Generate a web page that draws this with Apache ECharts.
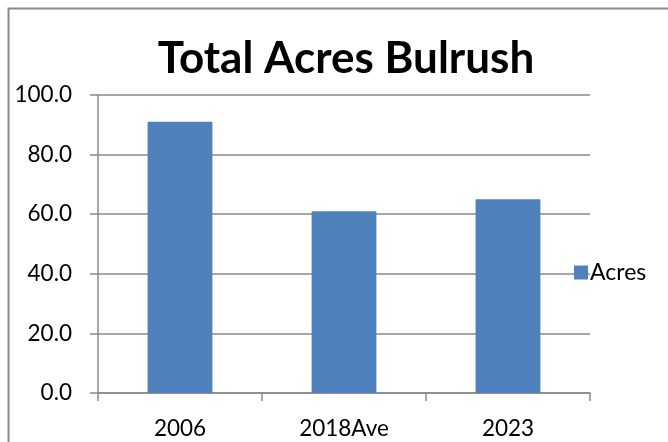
<!DOCTYPE html>
<html><head><meta charset="utf-8">
<script src="https://cdn.jsdelivr.net/npm/echarts@6/dist/echarts.min.js"></script>
<style>html,body{margin:0;padding:0;background:#fff}#c{width:668px;height:442px}</style>
</head><body><div id="c"></div>
<script>
const categories = ["2006", "2018Ave", "2023"];
const acres = [91, 61, 65];
const yTicks = [0, 20, 40, 60, 80, 100];
const seriesName = "Acres";
const titleText = "Total Acres Bulrush";

const chart = echarts.init(document.getElementById('c'), null, {renderer: 'canvas'});
const font = "Lato, 'Open Sans', sans-serif";
chart.setOption({
  animation: false,
  backgroundColor: '#fff',
  graphic: [{
    type: 'rect', shape: {x: 8.5, y: 8.5, width: 800, height: 600},
    style: {fill: 'none', stroke: '#8a8a8a', lineWidth: 2}, silent: true
  }],
  title: {
    text: titleText, left: 341, top: 32, textAlign: 'center',
    textStyle: {fontFamily: font, fontWeight: 'bold', fontSize: 44, color: '#000'}
  },
  legend: {
    data: [seriesName], left: 569, top: 256, icon: 'rect', itemWidth: 14, itemHeight: 14, itemGap: 4,
    textStyle: {fontFamily: font, fontSize: 23, color: '#000', padding: [0,0,0,-3]}
  },
  grid: {left: 98, right: 78, top: 95, bottom: 49, containLabel: false},
  xAxis: {
    type: 'category', data: categories,
    axisLine: {lineStyle: {color: '#8a8a8a', width: 1.5}},
    axisTick: {show: true, length: 8, lineStyle: {color: '#8a8a8a', width: 1.5}},
    axisLabel: {fontFamily: font, fontSize: 22.5, color: '#000', margin: 24}
  },
  yAxis: {
    type: 'value', min: yTicks[0], max: yTicks[yTicks.length-1], interval: 20,
    axisLine: {show: true, lineStyle: {color: '#8a8a8a', width: 1.5}},
    axisTick: {show: true, length: 8, lineStyle: {color: '#8a8a8a', width: 1.5}},
    splitLine: {show: true, lineStyle: {color: '#8a8a8a', width: 1.5}},
    axisLabel: {fontFamily: font, fontSize: 22.5, color: '#000', margin: 26,
      formatter: v => v.toFixed(1)}
  },
  series: [{
    name: seriesName, type: 'bar', data: acres, barWidth: '39.5%',
    itemStyle: {color: '#4F81BD'}
  }]
});
</script></body></html>
